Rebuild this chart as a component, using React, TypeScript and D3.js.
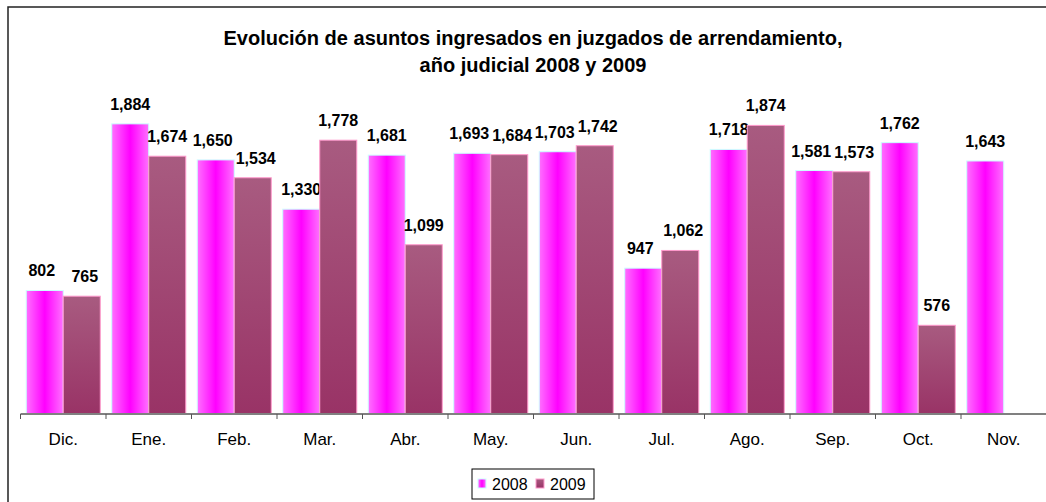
import React from 'react';
import * as d3 from 'd3';

// meses del año judicial
const meses = ['Dic.', 'Ene.', 'Feb.', 'Mar.', 'Abr.', 'May.', 'Jun.', 'Jul.', 'Ago.', 'Sep.', 'Oct.', 'Nov.'];
const series = ['2008', '2009'];
const valores2008 = [802, 1884, 1650, 1330, 1681, 1693, 1703, 947, 1718, 1581, 1762, 1643];
const valores2009: (number | null)[] = [765, 1674, 1534, 1778, 1099, 1684, 1742, 1062, 1874, 1573, 576, null];

const titulo = [
  'Evolución de asuntos ingresados en juzgados de arrendamiento,',
  'año judicial 2008 y 2009',
];

export default function App() {
  const width = 1046;
  const height = 502;
  const font = 'Arial, "Liberation Sans", Helvetica, sans-serif';

  const x = d3.scaleBand().domain(meses).range([20.5, 20.5 + 12 * 85.5]).padding(0);
  const xs = d3.scaleBand().domain(series).range([0, x.bandwidth()]).paddingInner(0).paddingOuter(0.155);
  const y = d3.scaleLinear().domain([0, 2000]).range([414, 106]);
  const fmt = d3.format(',');

  const filas = meses.flatMap((m, i) => {
    const a = valores2008[i];
    const b = valores2009[i];
    // etiquetas muy juntas: separar un poco
    const junto = b != null && Math.abs(y(a) - y(b)) < 18 ? 3 : 0;
    return [
      { mes: m, serie: '2008', v: a, dx: -junto },
      { mes: m, serie: '2009', v: b, dx: junto },
    ];
  }).filter(d => d.v != null) as { mes: string; serie: string; v: number; dx: number }[];

  return (
    <svg width={width} height={height} style={{ position: 'absolute', left: 0, top: 0, display: 'block' }}>
      <defs>
        <linearGradient id="g2008" x1="0" x2="1" y1="0" y2="0">
          <stop offset="0" stopColor="#ff70ff" />
          <stop offset="0.5" stopColor="#ff00ff" />
          <stop offset="1" stopColor="#ff70ff" />
        </linearGradient>
        <linearGradient id="g2009" x1="0" x2="0" y1="0" y2="1">
          <stop offset="0" stopColor="#a85b80" />
          <stop offset="1" stopColor="#993366" />
        </linearGradient>
      </defs>
      <rect x={0} y={0} width={width} height={height} fill="#fff" />
      <rect x={8} y={7} width={width} height={height} fill="#fff" stroke="#222" strokeWidth={1.5} />

      {titulo.map((t, i) => (
        <text key={i} x={533} y={45 + i * 27} textAnchor="middle" fontFamily={font}
          fontWeight="bold" fontSize={20} fill="#000">{t}</text>
      ))}

      {filas.map((d, i) => {
        const bx = (x(d.mes) ?? 0) + (xs(d.serie) ?? 0);
        return (
          <g key={i}>
            <rect x={bx} y={y(d.v)} width={xs.bandwidth()} height={y(0) - y(d.v)}
              fill={d.serie === '2008' ? 'url(#g2008)' : 'url(#g2009)'}
              stroke={d.serie === '2008' ? '#ccffff' : '#ff99cc'} strokeWidth={1} />
            <text x={bx + xs.bandwidth() / 2 + d.dx} y={y(d.v) - 14} textAnchor="middle"
              fontFamily={font} fontWeight="bold" fontSize={16} fill="#000">{fmt(d.v)}</text>
          </g>
        );
      })}

      <line x1={20.5} x2={width} y1={414} y2={414} stroke="#808080" strokeWidth={2} />
      {meses.map((m, i) => (
        <line key={'t' + i} x1={x(m)} x2={x(m)} y1={414} y2={419} stroke="#555" strokeWidth={1} />
      ))}
      {meses.map(m => (
        <text key={m} x={(x(m) ?? 0) + x.bandwidth() / 2} y={445} textAnchor="middle"
          fontFamily={font} fontSize={17} fill="#000">{m}</text>
      ))}

      <rect x={472} y={469} width={122} height={30} fill="#fff" stroke="#000" strokeWidth={1} />
      {series.map((s, i) => (
        <g key={s} transform={`translate(${478 + i * 58},0)`}>
          <rect x={0} y={479} width={8} height={9} fill={i === 0 ? 'url(#g2008)' : 'url(#g2009)'}
            stroke={i === 0 ? '#ccffff' : '#ff99cc'} strokeWidth={1} />
          <text x={14} y={490} fontFamily={font} fontSize={16} fill="#000">{s}</text>
        </g>
      ))}
    </svg>
  );
}
